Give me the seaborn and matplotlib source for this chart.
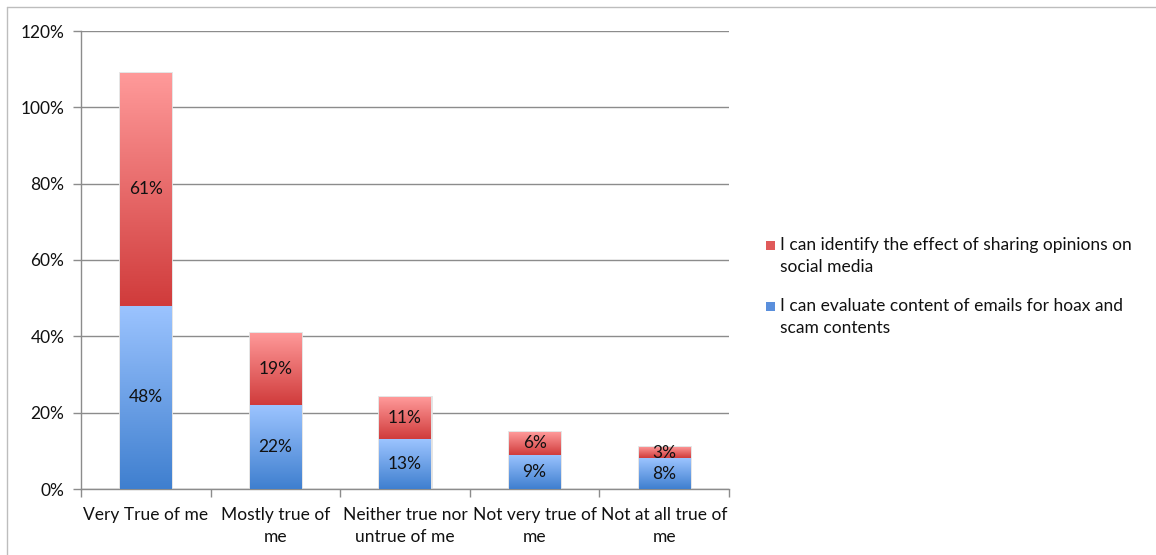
import numpy as np
import pandas as pd
import matplotlib
matplotlib.use("Agg")
import matplotlib.pyplot as plt
import seaborn as sns
from matplotlib.colors import LinearSegmentedColormap
from matplotlib.lines import Line2D
from matplotlib.patches import Patch, Rectangle
from matplotlib.legend_handler import HandlerPatch

categories = ["Very True of me", "Mostly true of\nme", "Neither true nor\nuntrue of me",
              "Not very true of\nme", "Not at all true of\nme"]
evaluate_emails = [48, 22, 13, 9, 8]
identify_sharing = [61, 19, 11, 6, 3]
series_names = ["I can identify the effect of sharing opinions on\nsocial media",
                "I can evaluate content of emails for hoax and\nscam contents"]
y_ticks = [0, 20, 40, 60, 80, 100, 120]

sns.set_theme(style="white")
plt.rcParams["font.family"] = ["Lato", "DejaVu Sans"]

FS = 12.5
TXT = "#111111"
GRID = "#8c8c8c"

df = pd.DataFrame({
    "category": categories,
    "blue": evaluate_emails,
    "red": identify_sharing,
})
df["total"] = df["blue"] + df["red"]

fig = plt.figure(figsize=(11.56, 5.55), dpi=100)
ax = fig.add_axes([81 / 1156, 1 - 489 / 555, (729 - 81) / 1156, (489 - 31) / 555])

bar_w = 0.395
sns.barplot(data=df, x="category", y="total", color="#e06060", width=bar_w,
            ax=ax, edgecolor="#e2e2e2", linewidth=2.0, zorder=2)
sns.barplot(data=df, x="category", y="blue", color="#6a9fe6", width=bar_w,
            ax=ax, linewidth=0, zorder=3)

red_cmap = LinearSegmentedColormap.from_list("red_grad", ["#d03b3b", "#ff9a9a"])
blue_cmap = LinearSegmentedColormap.from_list("blue_grad", ["#3f7fcf", "#9cc4ff"])

n = len(categories)
patches = list(ax.patches)
red_patches = patches[:n]
blue_patches = patches[n:2 * n]

grad = np.linspace(0, 1, 256).reshape(-1, 1)
for i in range(n):
    rp = red_patches[i]
    x0 = rp.get_x()
    w = rp.get_width()
    b = evaluate_emails[i]
    t = b + identify_sharing[i]
    im = ax.imshow(grad, cmap=red_cmap, origin="lower", aspect="auto",
                   extent=[x0, x0 + w, b, t], zorder=2.5, interpolation="bicubic")
    im.set_clip_path(rp)
    bp = blue_patches[i]
    im2 = ax.imshow(grad, cmap=blue_cmap, origin="lower", aspect="auto",
                    extent=[x0, x0 + w, 0, b], zorder=3.5, interpolation="bicubic")
    im2.set_clip_path(bp)
    ax.text(i, b / 2, f"{evaluate_emails[i]}%", ha="center", va="center",
            fontsize=FS, color=TXT, zorder=5)
    ax.text(i, b + identify_sharing[i] / 2, f"{identify_sharing[i]}%", ha="center",
            va="center", fontsize=FS, color=TXT, zorder=5)

ax.set_xlim(-0.5, n - 0.5)
ax.set_ylim(0, 120)
ax.set_yticks(y_ticks)
ax.set_yticklabels([f"{v}%" for v in y_ticks], fontsize=FS, color=TXT)
ax.yaxis.grid(True, color=GRID, linewidth=1.0)
ax.set_axisbelow(True)
ax.set_xlabel("")
ax.set_ylabel("")

ax.set_xticks(range(n))
ax.set_xticklabels(categories, fontsize=FS, color=TXT, linespacing=1.45)
ax.tick_params(axis="x", length=0, pad=13)
ax.set_xticks(np.arange(-0.5, n, 1.0), minor=True)
ax.tick_params(axis="x", which="minor", length=6, width=1, color=GRID,
               direction="out", bottom=True)
ax.tick_params(axis="y", length=6, width=1, color=GRID, direction="out",
               left=True, pad=6)

for side in ["top", "right"]:
    ax.spines[side].set_visible(False)
for side in ["left", "bottom"]:
    ax.spines[side].set_color(GRID)
    ax.spines[side].set_linewidth(1.0)


def top_square(legend, orig_handle, xdescent, ydescent, width, height, fontsize):
    # small square aligned with the first line of a two-line label
    size = width
    y = -ydescent + height / 2 - size / 2 + 0.62 * fontsize
    return Rectangle((-xdescent, y), size, size)


handles = [Patch(facecolor="#e05a5a", edgecolor="none"),
           Patch(facecolor="#5a8fdc", edgecolor="none")]
leg = fig.legend(handles, series_names, loc="upper left",
                 bbox_to_anchor=(757 / 1156, 1 - 228 / 555), frameon=False,
                 fontsize=FS, handlelength=0.52, handleheight=0.52, handletextpad=0.3,
                 labelspacing=1.3, borderpad=0, labelcolor=TXT,
                 handler_map={Patch: HandlerPatch(patch_func=top_square)})
for t in leg.get_texts():
    t.set_linespacing(1.5)

# thin frame lines along the top and left edges of the figure
fig.add_artist(Line2D([7 / 1156, 1], [1 - 7 / 555, 1 - 7 / 555],
                      transform=fig.transFigure, color="#bdbdbd", linewidth=1))
fig.add_artist(Line2D([7 / 1156, 7 / 1156], [0, 1 - 7 / 555],
                      transform=fig.transFigure, color="#bdbdbd", linewidth=1))

fig.savefig("out.png", dpi=100, facecolor="white")
